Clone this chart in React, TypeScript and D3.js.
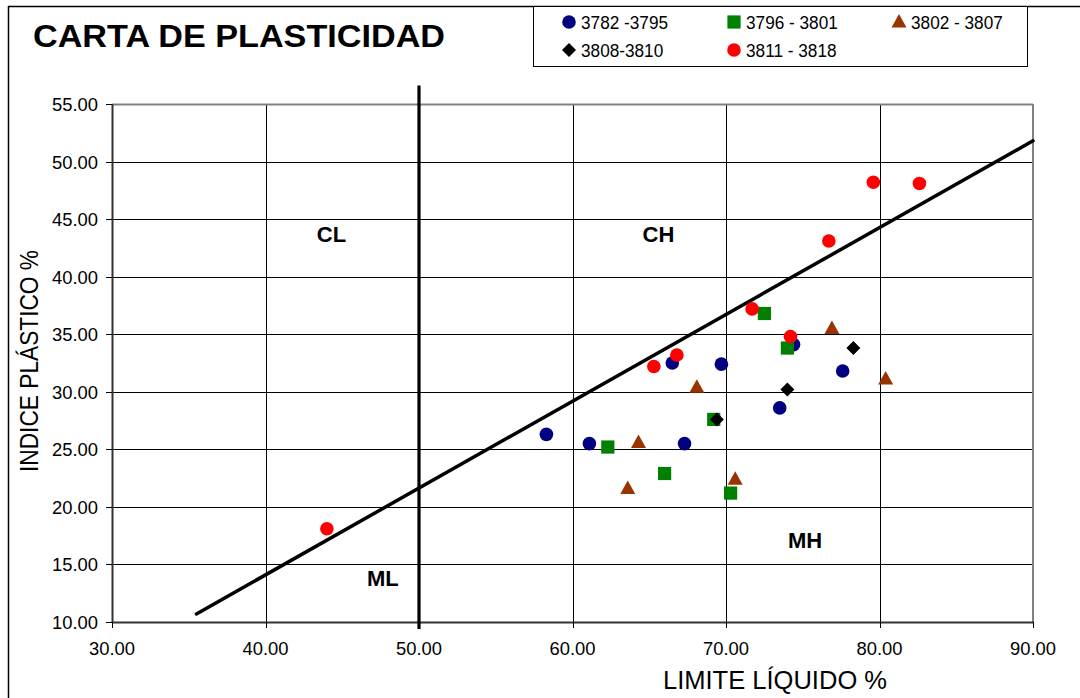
import React from "react";
import * as d3 from "d3";

const xTicks = [30, 40, 50, 60, 70, 80, 90];
const yTicks = [10, 15, 20, 25, 30, 35, 40, 45, 50, 55];

const s1LL = [58.3, 61.1, 66.5, 67.3, 69.7, 73.5, 74.4, 77.6];
const s1PI = [26.3, 25.5, 32.5, 25.5, 32.4, 28.6, 34.1, 31.8];
const s2LL = [62.3, 66.0, 69.2, 70.3, 72.5, 74.0];
const s2PI = [25.2, 22.9, 27.6, 21.2, 36.8, 33.8];
const s3LL = [63.6, 64.3, 68.1, 70.6, 76.9, 80.4];
const s3PI = [21.6, 25.6, 30.4, 22.4, 35.5, 31.1];
const s4LL = [69.4, 74.0, 78.3];
const s4PI = [27.6, 30.2, 33.8];
const s5LL = [44.0, 65.3, 66.8, 71.7, 74.2, 76.7, 79.6, 82.6];
const s5PI = [18.1, 32.2, 33.2, 37.2, 34.8, 43.1, 48.2, 48.1];

const seriesNames = ["3782 -3795", "3796 - 3801", "3802 - 3807", "3808-3810", "3811 - 3818"];
const seriesColors = ["#000080", "#008000", "#993300", "#000000", "#FF0000"];
const seriesShapes = ["circle", "square", "triangle", "diamond", "circle"];

const aLineLL = [35.5, 90];
const aLinePI = [10.7, 51.8];
const bLineLL = [50, 50];
const bLinePI = [9.4, 56.6];

const zoneNames = ["CL", "CH", "MH", "ML"];
const zoneLL = [44.3, 65.6, 75.15, 47.65];
const zonePI = [43.0, 43.0, 16.4, 13.1];

const FONT = "Liberation Sans, Arial, sans-serif";

function Marker({ shape, color, x, y }: { shape: string; color: string; x: number; y: number }) {
  if (shape === "circle") return <circle cx={x} cy={y} r={6.8} fill={color} />;
  if (shape === "square") return <rect x={x - 6.6} y={y - 6.6} width={13.2} height={13.2} fill={color} />;
  if (shape === "triangle")
    return <path d={`M${x},${y - 8} L${x + 7.5},${y + 5.5} L${x - 7.5},${y + 5.5} Z`} fill={color} />;
  return <path d={`M${x},${y - 7} L${x + 7},${y} L${x},${y + 7} L${x - 7},${y} Z`} fill={color} />;
}

export default function App() {
  const left = 112, right = 1033, top = 104, bottom = 622;
  const x = d3.scaleLinear().domain([30, 90]).range([left, right]);
  const y = d3.scaleLinear().domain([10, 55]).range([bottom, top]);

  const series = [
    [s1LL, s1PI],
    [s2LL, s2PI],
    [s3LL, s3PI],
    [s4LL, s4PI],
    [s5LL, s5PI],
  ];

  const line = d3
    .line<[number, number]>()
    .x((d) => x(d[0]))
    .y((d) => y(d[1]));

  const aPts: [number, number][] = aLineLL.map((v, i) => [v, aLinePI[i]]);
  const bPts: [number, number][] = bLineLL.map((v, i) => [v, bLinePI[i]]);

  const legendPos = [
    [569, 22],
    [734, 22],
    [899, 22],
    [569, 50],
    [734, 50],
  ];

  return (
    <div style={{ position: "absolute", left: 0, top: 0 }}>
      <svg width={1080} height={698} style={{ display: "block", background: "#fff" }} fontFamily={FONT}>
        <rect x={0} y={0} width={1080} height={698} fill="#fff" />
        {/* outer frame */}
        <line x1={8.5} y1={6} x2={8.5} y2={698} stroke="#000" strokeWidth={1.5} />
        <line x1={8} y1={6.5} x2={1080} y2={6.5} stroke="#000" strokeWidth={1.5} />

        {/* title */}
        <text x={33} y={47} fontSize={31} fontWeight="bold" fill="#000" textLength={412} lengthAdjust="spacingAndGlyphs">
          CARTA DE PLASTICIDAD
        </text>

        {/* legend */}
        <rect x={533.5} y={6.5} width={494} height={60} fill="#fff" stroke="#000" strokeWidth={1} />
        {seriesNames.map((n, i) => (
          <g key={n}>
            <Marker shape={seriesShapes[i]} color={seriesColors[i]} x={legendPos[i][0]} y={legendPos[i][1]} />
            <text x={legendPos[i][0] + 12} y={legendPos[i][1] + 7} fontSize={18.5} fill="#000" transform={`translate(${(legendPos[i][0] + 12) * (1 - 0.93)},0) scale(0.93,1)`}>
              {n}
            </text>
          </g>
        ))}

        {/* grid */}
        {yTicks.map((t) => (
          <line key={"gy" + t} x1={left} x2={right} y1={Math.round(y(t)) + 0.5} y2={Math.round(y(t)) + 0.5} stroke="#000" strokeWidth={1} />
        ))}
        {xTicks.map((t) => (
          <line key={"gx" + t} x1={Math.round(x(t)) + 0.5} x2={Math.round(x(t)) + 0.5} y1={top} y2={bottom} stroke="#000" strokeWidth={1} />
        ))}
        {/* plot frame */}
        <line x1={left} x2={right} y1={top + 0.5} y2={top + 0.5} stroke="#808080" strokeWidth={2} />
        <line x1={right} x2={right} y1={top} y2={bottom} stroke="#808080" strokeWidth={2} />
        <line x1={left} x2={right + 1} y1={bottom + 0.5} y2={bottom + 0.5} stroke="#333" strokeWidth={2} />
        <line x1={left + 0.5} x2={left + 0.5} y1={top} y2={bottom + 1} stroke="#333" strokeWidth={2} />

        {/* ticks */}
        {yTicks.map((t) => (
          <g key={"ty" + t}>
            <line x1={left - 6} x2={left} y1={Math.round(y(t)) + 0.5} y2={Math.round(y(t)) + 0.5} stroke="#000" />
            <text x={98} y={y(t) + 7} fontSize={19} textAnchor="end" fill="#000" textLength={46} lengthAdjust="spacingAndGlyphs">
              {t.toFixed(2)}
            </text>
          </g>
        ))}
        {xTicks.map((t) => (
          <g key={"tx" + t}>
            <line x1={Math.round(x(t)) + 0.5} x2={Math.round(x(t)) + 0.5} y1={bottom} y2={bottom + 6} stroke="#000" />
            <text x={x(t)} y={655} fontSize={19} textAnchor="middle" fill="#000" textLength={46} lengthAdjust="spacingAndGlyphs">
              {t.toFixed(2)}
            </text>
          </g>
        ))}

        {/* axis titles */}
        <text x={775} y={689} fontSize={26} textAnchor="middle" fill="#000" textLength={224} lengthAdjust="spacingAndGlyphs">
          LIMITE LÍQUIDO %
        </text>
        <text transform="translate(38,361) rotate(-90)" fontSize={26} textAnchor="middle" fill="#000" textLength={222} lengthAdjust="spacingAndGlyphs">
          INDICE PLÁSTICO %
        </text>

        {/* lines */}
        <path d={line(bPts) || ""} stroke="#000" strokeWidth={3.2} fill="none" />
        <path d={line(aPts) || ""} stroke="#000" strokeWidth={3.5} fill="none" strokeLinecap="round" />

        {/* zone labels */}
        {zoneNames.map((z, i) => (
          <text key={z} x={x(zoneLL[i])} y={y(zonePI[i])} fontSize={22} fontWeight="bold" textAnchor="middle" fill="#000">
            {z}
          </text>
        ))}

        {/* points */}
        {series.map(([lls, pis], si) =>
          lls.map((v, j) => (
            <Marker key={si + "-" + j} shape={seriesShapes[si]} color={seriesColors[si]} x={x(v)} y={y(pis[j])} />
          ))
        )}
      </svg>
    </div>
  );
}
